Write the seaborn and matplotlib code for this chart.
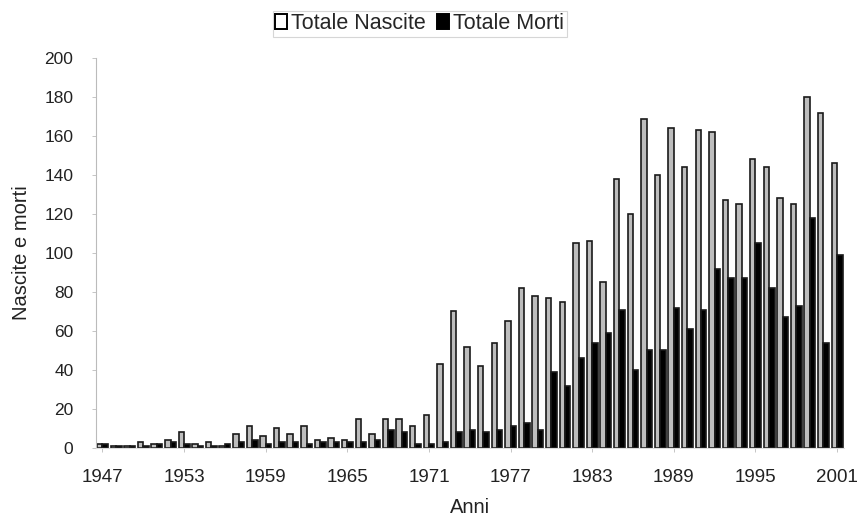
import numpy as np
import pandas as pd
import matplotlib
matplotlib.use("Agg")
import matplotlib.pyplot as plt
import seaborn as sns

# dati
anni = list(range(1947, 2002))
nascite = [2, 1, 1, 3, 2, 4, 8, 2, 3, 1, 7, 11, 6, 10, 7, 11, 4, 5, 4, 15,
           7, 15, 15, 11, 17, 43, 70, 52, 42, 54, 65, 82, 78, 77, 75, 105, 106, 85, 138, 120,
           169, 140, 164, 144, 163, 162, 127, 125, 148, 144, 128, 125, 180, 172, 146]
morti = [2, 1, 1, 1, 2, 3, 2, 1, 1, 2, 3, 4, 2, 3, 3, 2, 3, 3, 3, 3,
         4, 9, 8, 2, 2, 3, 8, 9, 8, 9, 11, 13, 9, 39, 32, 46, 54, 59, 71, 40,
         50, 50, 72, 61, 71, 92, 87, 87, 105, 82, 67, 73, 118, 54, 99]
serie = ["Totale Nascite", "Totale Morti"]
tick_anni = [1947, 1953, 1959, 1965, 1971, 1977, 1983, 1989, 1995, 2001]

df = pd.DataFrame({
    "Anni": anni * 2,
    "valore": nascite + morti,
    "serie": [serie[0]] * len(anni) + [serie[1]] * len(anni),
})

sns.set_style("white")
plt.rcParams["font.family"] = ["Liberation Sans", "DejaVu Sans"]

fig = plt.figure(figsize=(8.62, 5.19), dpi=100)
ax = fig.add_axes([0.111, 0.137, 0.868, 0.751])

# le barre bianche appaiono grigie nell'originale (sfocato), quindi riempimento grigio chiaro
sns.barplot(data=df, x="Anni", y="valore", hue="serie", hue_order=serie,
            palette={serie[0]: "#bdbdbd", serie[1]: "black"},
            edgecolor="#1a1a1a", linewidth=1.2, width=0.8, ax=ax)

ax.set_ylim(0, 200)
ax.set_yticks(np.arange(0, 201, 20))
ax.set_xlim(-0.5, len(anni) - 0.5)
ax.set_xticks([anni.index(a) for a in tick_anni])
ax.set_xticklabels([str(a) for a in tick_anni])
ax.tick_params(axis="y", labelsize=12.5, pad=13)
ax.tick_params(axis="x", labelsize=13.5, pad=12)
ax.tick_params(axis="both", labelcolor="#222222", length=3, width=0.6,
               direction="out", bottom=True, left=True, color="#bbbbbb")

for s in ["top", "right"]:
    ax.spines[s].set_visible(False)
ax.spines["left"].set_color("#bbbbbb")
ax.spines["bottom"].set_color("#dddddd")
ax.spines["left"].set_linewidth(0.8)
ax.spines["bottom"].set_linewidth(0.8)

ax.set_xlabel("Anni", fontsize=14.5, color="#222222", labelpad=9)
ax.set_ylabel("Nascite e morti", fontsize=14.5, color="#222222", labelpad=10)

leg = ax.legend(loc="center", bbox_to_anchor=(0.433, 1.088), ncol=2,
                frameon=True, fontsize=15.5, handlelength=0.55, handleheight=0.7,
                handletextpad=0.2, columnspacing=0.5, borderpad=0.12,
                fancybox=False)
leg.get_frame().set_edgecolor("#cccccc")
leg.get_frame().set_linewidth(0.8)
for h, c in zip(leg.legend_handles, ["white", "black"]):
    h.set_facecolor(c)
    h.set_edgecolor("black")
    h.set_linewidth(1.4)

fig.savefig("out.png", dpi=100)
